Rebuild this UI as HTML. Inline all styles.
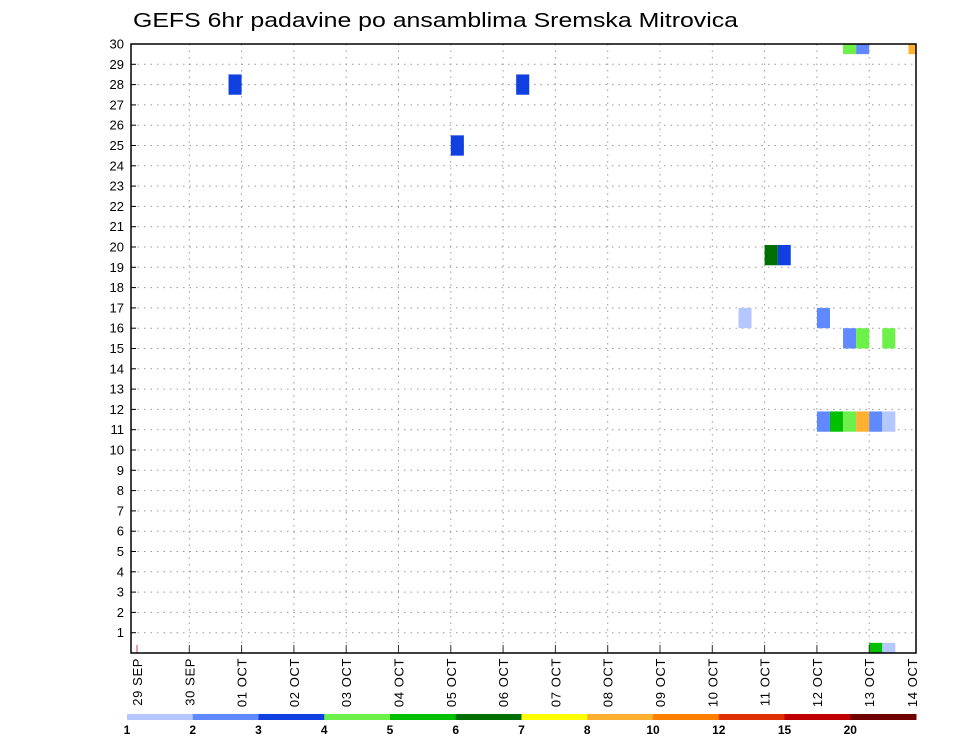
<!DOCTYPE html>
<html><head><meta charset="utf-8"><style>
body{margin:0;background:#fff;}
svg{display:block;font-family:"Liberation Sans",sans-serif;}
</style></head><body>
<svg id="chart" width="960" height="742" viewBox="0 0 960 742">
<text x="133" y="27" font-size="20" fill="#000" textLength="605" lengthAdjust="spacingAndGlyphs">GEFS 6hr padavine po ansamblima Sremska Mitrovica</text>
<g id="grid"></g><g id="cells"></g><g id="axes"></g><g id="cbar"></g>
</svg>
<script>
const dayLabels=["29 SEP","30 SEP","01 OCT","02 OCT","03 OCT","04 OCT","05 OCT","06 OCT","07 OCT","08 OCT","09 OCT","10 OCT","11 OCT","12 OCT","13 OCT","14 OCT"];
const memberTicks=[1,2,3,4,5,6,7,8,9,10,11,12,13,14,15,16,17,18,19,20,21,22,23,24,25,26,27,28,29,30];
// cells: time step (6h index from 29 SEP 00Z), member row, precip value (mm)
const cellSteps=[7,29,24,48,49,46,52,54,55,57,52,53,54,55,56,57,56,57,54,55,59];
const cellMembers=[28,28,25,19.6,19.6,16.5,16.5,15.5,15.5,15.5,11.4,11.4,11.4,11.4,11.4,11.4,0,0,30,30,30];
const cellValues=[3.5,3.5,3.5,6.5,3.5,1.5,2.5,2.5,4.5,4.5,2.5,5.5,4.5,9,2.5,1.5,5.5,1.5,4.5,2.5,9];
const binEdges=[1,2,3,4,5,6,7,8,10,12,15,20];
const binColors=["#b4c8ff","#6088ff","#1040e0","#6ef04a","#00c000","#006e00","#ffff00","#ffb030","#ff8000","#e03000","#c00000","#700000"];
const cbarLabels=["1","2","3","4","5","6","7","8","10","12","15","20"];

const NS="http://www.w3.org/2000/svg";
const L=131,R=916,T=44,B=653,x0=137,dayW=52.3,rowH=(B-T)/30;
const xDay=d=>x0+d*dayW, xStep=s=>x0+s*dayW/4, yM=m=>B-m*rowH;
function mk(tag,attrs,parent,txt){const e=document.createElementNS(NS,tag);for(const k in attrs)e.setAttribute(k,attrs[k]);if(txt!==undefined)e.textContent=txt;parent.appendChild(e);return e;}
const grid=document.getElementById('grid'),cells=document.getElementById('cells'),axes=document.getElementById('axes'),cbar=document.getElementById('cbar');
function colorFor(v){let i=0;for(let k=0;k<binEdges.length;k++)if(v>=binEdges[k])i=k;return binColors[i];}

memberTicks.forEach(m=>{
  const y=yM(m);
  if(m<30){const g=mk('line',{x1:L,x2:R,y1:y,y2:y,stroke:'#999','stroke-dasharray':'1.5,5'},grid);
  
  }
  const tk=mk('line',{x1:L,x2:L+5,y1:y,y2:y,stroke:'#000'},axes);
  
  
  const t=mk('text',{x:L-7,y:y+4.5,'font-size':13,'text-anchor':'end'},axes,String(m));
  
  
});
dayLabels.forEach((lab,d)=>{
  const x=xDay(d);
  if(d>0&&x<R){const g=mk('line',{x1:x,x2:x,y1:T,y2:B,stroke:'#999','stroke-dasharray':'1.5,5'},grid);
  
  }
  if(x<=R){const tk=mk('line',{x1:x,x2:x,y1:B-8,y2:B,stroke:d==0?'#c44':'#333'},axes);
  
  }
  const xl=Math.min(x,912);
  const t=mk('text',{x:0,y:0,'font-size':13,'text-anchor':'end','letter-spacing':'0.6',transform:`translate(${xl+5},${B+5}) rotate(-90)`},axes,lab);
  
  
});
cellSteps.forEach((s,i)=>{
  const x=xStep(s),yc=yM(cellMembers[i]);
  let y1=Math.max(T,yc-rowH/2),y2=Math.min(B,yc+rowH/2);
  const w=Math.min(dayW/4,R-x);
  const r=mk('rect',{x:x,y:y1,width:w,height:y2-y1,fill:colorFor(cellValues[i])},cells);
  
  
});
const fr=mk('rect',{x:L,y:T,width:R-L,height:B-T,fill:'none',stroke:'#000','stroke-width':1.5},axes);



const cx0=127,cw=(916-127)/binColors.length;
binColors.forEach((c,i)=>{
  const r=mk('rect',{x:cx0+i*cw,y:714,width:cw+0.5,height:6,fill:c},cbar);
  
  
});
cbarLabels.forEach((l,i)=>{
  const t=mk('text',{x:cx0+i*cw,y:734,'font-size':12,'font-weight':'bold','text-anchor':'middle'},cbar,l);
  
  
});
</script>
</body></html>
